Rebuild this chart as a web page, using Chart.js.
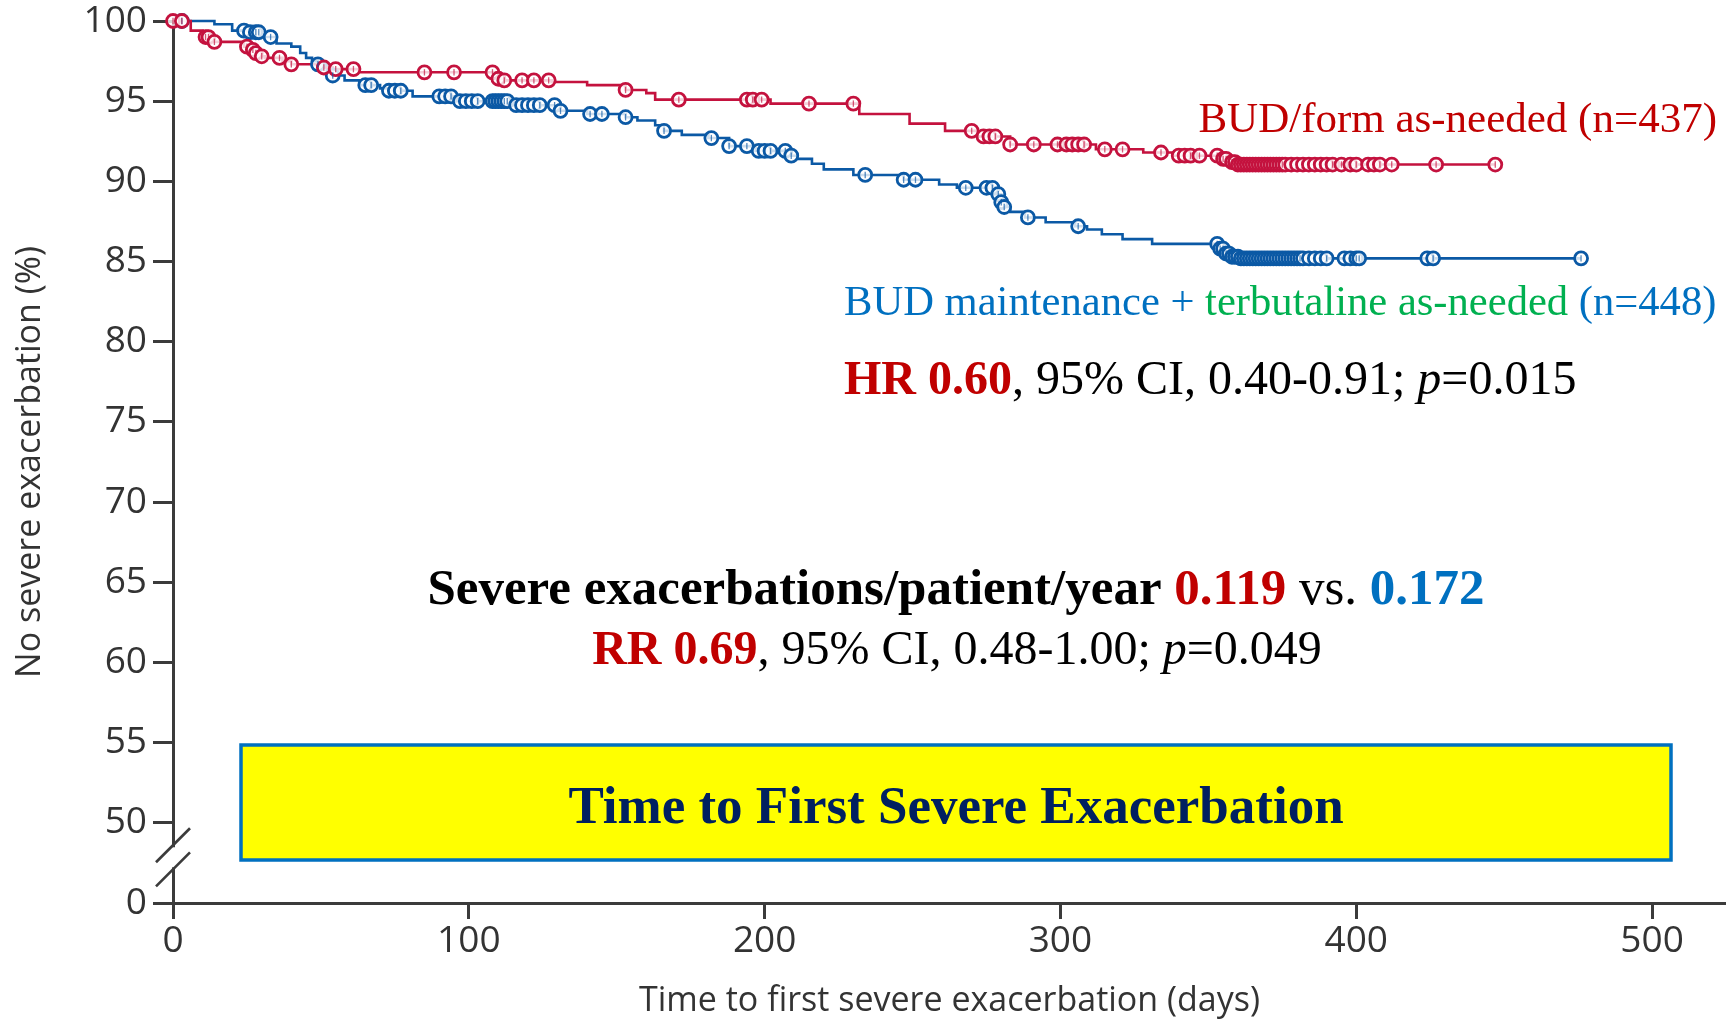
<!DOCTYPE html>
<html>
<head>
<meta charset="utf-8">
<title>Time to First Severe Exacerbation</title>
<script src="https://cdn.jsdelivr.net/npm/chart.js@4.4.1/dist/chart.umd.min.js"></script>
<style>
  html, body { margin: 0; padding: 0; background: #fff; }
  #wrap { width: 1726px; height: 1022px; }
</style>
</head>
<body>
<div id="wrap"><canvas id="kmChart" width="1726" height="1022"></canvas></div>
<script>
// Kaplan-Meier steps: day of the event and % free of severe exacerbation after it
var budFormDays = [0, 6, 10, 13, 24, 26, 28, 30, 31, 37,
  40, 49, 54, 63, 110, 112, 128, 140, 153, 160,
  163, 202, 232, 249, 261, 272, 283, 312, 328, 338,
  354, 357, 360, 447];
var budFormPct = [100, 99.4, 99.0, 98.7, 98.4, 98.2, 98.0, 97.8, 97.7, 97.5,
  97.3, 97.1, 97.0, 96.8, 96.4, 96.3, 96.2, 96.0, 95.7, 95.5,
  95.1, 94.85, 94.2, 93.6, 93.15, 92.8, 92.3, 92.0, 91.8, 91.6,
  91.4, 91.2, 91.05, 91.05];

var budMaintDays = [0, 14, 20, 26, 31, 35, 40, 43, 45, 47,
  49, 52, 54, 58, 63, 70, 73, 81, 95, 114,
  130, 140, 153, 157, 163, 166, 172, 181, 188, 197,
  209, 211, 216, 220, 230, 247, 259, 265, 278, 280,
  281, 283, 288, 295, 305, 309, 314, 321, 331, 354,
  356, 358, 361, 476];
var budMaintPct = [100, 99.8, 99.4, 99.3, 99.0, 98.6, 98.4, 98.0, 97.7, 97.5,
  97.3, 96.9, 96.6, 96.3, 96.0, 95.8, 95.65, 95.3, 95.0, 94.75,
  94.4, 94.2, 94.0, 93.8, 93.5, 93.15, 92.9, 92.7, 92.2, 91.9,
  91.6, 91.4, 91.1, 90.75, 90.4, 90.1, 89.8, 89.6, 89.2, 88.7,
  88.4, 88.1, 87.75, 87.45, 87.2, 87.0, 86.7, 86.4, 86.1, 85.8,
  85.5, 85.3, 85.2, 85.2];

// censored patients (the little circles)
var budFormCensorDays = [0, 3, 11, 12, 14, 25, 27, 28, 30, 36,
  40, 51, 55, 61, 85, 95, 108, 110, 112, 118,
  122, 127, 153, 171, 194, 196, 199, 215, 230, 270,
  274, 276, 278, 283, 291, 299, 302, 304, 306, 308,
  315, 321, 334, 340, 342, 344, 347, 353, 355, 356,
  358, 359, 360, 361, 362, 363, 364, 365, 366, 367,
  368, 369, 370, 371, 372, 373, 374, 375, 376, 378,
  380, 382, 384, 386, 388, 390, 392, 395, 398, 400,
  404, 406, 408, 412, 427, 447];
var budFormCensorPct = [100, 100, 99.0, 99.0, 98.7, 98.4, 98.2, 98.0, 97.8, 97.7,
  97.3, 97.1, 97.0, 97.0, 96.8, 96.8, 96.8, 96.4, 96.3, 96.3,
  96.3, 96.3, 95.7, 95.1, 95.1, 95.1, 95.1, 94.85, 94.85, 93.15,
  92.8, 92.8, 92.8, 92.3, 92.3, 92.3, 92.3, 92.3, 92.3, 92.3,
  92.0, 92.0, 91.8, 91.6, 91.6, 91.6, 91.6, 91.6, 91.4, 91.4,
  91.2, 91.2, 91.05, 91.05, 91.05, 91.05, 91.05, 91.05, 91.05, 91.05,
  91.05, 91.05, 91.05, 91.05, 91.05, 91.05, 91.05, 91.05, 91.05, 91.05,
  91.05, 91.05, 91.05, 91.05, 91.05, 91.05, 91.05, 91.05, 91.05, 91.05,
  91.05, 91.05, 91.05, 91.05, 91.05, 91.05];

var budMaintCensorDays = [3, 24, 26, 28, 29, 33, 49, 54, 65, 67,
  73, 75, 77, 90, 92, 94, 97, 99, 101, 103,
  108, 109, 110, 111, 112, 113, 116, 118, 120, 122,
  124, 129, 131, 141, 145, 153, 166, 182, 188, 194,
  198, 200, 202, 207, 209, 234, 247, 251, 268, 275,
  277, 279, 280, 281, 289, 306, 353, 354, 355, 356,
  357, 358, 359, 360, 361, 362, 363, 364, 365, 366,
  367, 368, 369, 370, 371, 372, 373, 374, 375, 376,
  377, 378, 379, 380, 381, 382, 384, 386, 388, 390,
  396, 398, 400, 401, 424, 426, 476];
var budMaintCensorPct = [100, 99.4, 99.3, 99.3, 99.3, 99.0, 97.3, 96.6, 96.0, 96.0,
  95.65, 95.65, 95.65, 95.3, 95.3, 95.3, 95.0, 95.0, 95.0, 95.0,
  95.0, 95.0, 95.0, 95.0, 95.0, 95.0, 94.75, 94.75, 94.75, 94.75,
  94.75, 94.75, 94.4, 94.2, 94.2, 94.0, 93.15, 92.7, 92.2, 92.2,
  91.9, 91.9, 91.9, 91.9, 91.6, 90.4, 90.1, 90.1, 89.6, 89.6,
  89.6, 89.2, 88.7, 88.4, 87.75, 87.2, 86.1, 85.8, 85.8, 85.5,
  85.5, 85.3, 85.3, 85.3, 85.2, 85.2, 85.2, 85.2, 85.2, 85.2,
  85.2, 85.2, 85.2, 85.2, 85.2, 85.2, 85.2, 85.2, 85.2, 85.2,
  85.2, 85.2, 85.2, 85.2, 85.2, 85.2, 85.2, 85.2, 85.2, 85.2,
  85.2, 85.2, 85.2, 85.2, 85.2, 85.2, 85.2];

var xTicks = [0, 100, 200, 300, 400, 500];
// the y axis is broken: 45 is the spot where "0" is printed
var yTicks = [45, 50, 55, 60, 65, 70, 75, 80, 85, 90, 95, 100];
var yTickLabels = ['0', '50', '55', '60', '65', '70', '75', '80', '85', '90', '95', '100'];

var RED = '#c4123e';
var BLUE = '#0b59a5';
var AXIS = '#3b3b3b';
var TICKTXT = '#333333';
var SANS = '"Open Sans", "DejaVu Sans", sans-serif';
var SERIF = '"Liberation Serif", "Times New Roman", serif';

function toPoints(xs, ys) {
  return xs.map(function(x, i) { return {x: x, y: ys[i]}; });
}

function kmLine(label, days, pct, color) {
  return {
    label: label,
    data: toPoints(days, pct),
    borderColor: color,
    borderWidth: 2.6,
    stepped: 'before',
    pointRadius: 0,
    fill: false,
    clip: false,
    order: 5
  };
}

function censorRings(label, days, pct, color) {
  return {
    label: label,
    data: toPoints(days, pct),
    showLine: false,
    pointStyle: 'circle',
    pointRadius: 6.5,
    pointBorderWidth: 2.8,
    pointBorderColor: color,
    pointBackgroundColor: 'rgba(255,255,255,0.8)',
    clip: false,
    order: 3
  };
}

function censorTicks(label, days, pct, color) {
  return {
    label: label,
    data: toPoints(days, pct),
    showLine: false,
    pointStyle: 'line',
    pointRotation: 90,
    pointRadius: 3.2,
    pointBorderWidth: 1.3,
    pointBorderColor: color,
    clip: false,
    order: 1
  };
}

function drawRuns(ctx, x, y, runs, align) {
  var total = 0;
  runs.forEach(function(r) {
    ctx.font = r.font;
    r.w = ctx.measureText(r.text).width;
    total += r.w;
  });
  var cx = align === 'center' ? x - total / 2 : (align === 'right' ? x - total : x);
  ctx.textAlign = 'left';
  ctx.textBaseline = 'alphabetic';
  runs.forEach(function(r) {
    ctx.font = r.font;
    ctx.fillStyle = r.color;
    ctx.fillText(r.text, cx, y);
    cx += r.w;
  });
}

// the // marks on the y axis between 50 and 0
var axisBreak = {
  id: 'axisBreak',
  afterDraw: function(chart) {
    var ctx = chart.ctx;
    var x0 = chart.chartArea.left;
    var yA = chart.scales.y.getPixelForValue(48.6);
    var yB = chart.scales.y.getPixelForValue(47.1);
    ctx.save();
    ctx.fillStyle = '#ffffff';
    ctx.fillRect(x0 - 3, yA + 2, 6, yB - yA - 4);
    ctx.strokeStyle = AXIS;
    ctx.lineWidth = 2.6;
    [yA, yB].forEach(function(yy) {
      ctx.beginPath();
      ctx.moveTo(x0 - 17, yy + 17);
      ctx.lineTo(x0 + 17, yy - 17);
      ctx.stroke();
    });
    ctx.restore();
  }
};

var notes = {
  id: 'notes',
  afterDraw: function(chart) {
    var ctx = chart.ctx;
    ctx.save();

    drawRuns(ctx, 1717, 132, [
      {text: 'BUD/form as-needed (n=437)', font: '43px ' + SERIF, color: '#c00000'}
    ], 'right');

    drawRuns(ctx, 844, 315, [
      {text: 'BUD maintenance + ', font: '42.6px ' + SERIF, color: '#0070c0'},
      {text: 'terbutaline as-needed', font: '42.6px ' + SERIF, color: '#00b050'},
      {text: ' (n=448)', font: '42.6px ' + SERIF, color: '#0070c0'}
    ], 'left');

    drawRuns(ctx, 844, 394, [
      {text: 'HR 0.60', font: 'bold 48px ' + SERIF, color: '#c00000'},
      {text: ', 95% CI, 0.40-0.91; ', font: '48px ' + SERIF, color: '#000'},
      {text: 'p', font: 'italic 48px ' + SERIF, color: '#000'},
      {text: '=0.015', font: '48px ' + SERIF, color: '#000'}
    ], 'left');

    drawRuns(ctx, 956, 604, [
      {text: 'Severe exacerbations/patient/year ', font: 'bold 51px ' + SERIF, color: '#000'},
      {text: '0.119', font: 'bold 51px ' + SERIF, color: '#c00000'},
      {text: ' vs. ', font: '51px ' + SERIF, color: '#000'},
      {text: '0.172', font: 'bold 51px ' + SERIF, color: '#0070c0'}
    ], 'center');

    drawRuns(ctx, 957, 664, [
      {text: 'RR 0.69', font: 'bold 48px ' + SERIF, color: '#c00000'},
      {text: ', 95% CI, 0.48-1.00; ', font: '48px ' + SERIF, color: '#000'},
      {text: 'p', font: 'italic 48px ' + SERIF, color: '#000'},
      {text: '=0.049', font: '48px ' + SERIF, color: '#000'}
    ], 'center');

    ctx.fillStyle = '#ffff00';
    ctx.fillRect(241, 745, 1430, 115);
    ctx.strokeStyle = '#0070c0';
    ctx.lineWidth = 3.5;
    ctx.strokeRect(241, 745, 1430, 115);
    drawRuns(ctx, 956, 823, [
      {text: 'Time to First Severe Exacerbation', font: 'bold 53px ' + SERIF, color: '#002060'}
    ], 'center');

    ctx.restore();
  }
};

var ctx = document.getElementById('kmChart').getContext('2d');
var kmChart = new Chart(ctx, {
  type: 'line',
  data: {
    datasets: [
      kmLine('BUD/form as-needed', budFormDays, budFormPct, RED),
      kmLine('BUD maintenance + terbutaline as-needed', budMaintDays, budMaintPct, BLUE),
      censorRings('BUD/form censored', budFormCensorDays, budFormCensorPct, RED),
      censorRings('BUD maintenance censored', budMaintCensorDays, budMaintCensorPct, BLUE),
      censorTicks('BUD/form censored tick', budFormCensorDays, budFormCensorPct, 'rgba(196,18,62,0.7)'),
      censorTicks('BUD maintenance censored tick', budMaintCensorDays, budMaintCensorPct, 'rgba(11,89,165,0.7)')
    ]
  },
  options: {
    responsive: false,
    animation: false,
    events: [],
    layout: { autoPadding: false, padding: { top: 21, right: 0, bottom: 0, left: 0 } },
    plugins: {
      legend: { display: false },
      tooltip: { enabled: false }
    },
    scales: {
      x: {
        type: 'linear',
        min: 0,
        max: 525,
        afterBuildTicks: function(axis) {
          axis.ticks = xTicks.map(function(v) { return {value: v}; });
        },
        afterFit: function(scale) {
          scale.height = 119;
          scale.paddingLeft = 0;
          scale.paddingRight = 0;
        },
        grid: { drawOnChartArea: false, drawTicks: true, tickLength: 16, tickWidth: 3, tickColor: AXIS },
        border: { display: true, color: AXIS, width: 3 },
        ticks: {
          color: TICKTXT,
          font: { family: SANS, size: 37 },
          padding: 0,
          maxRotation: 0,
          autoSkip: false
        },
        title: {
          display: true,
          text: 'Time to first severe exacerbation (days)',
          color: TICKTXT,
          font: { family: SANS, size: 34 },
          padding: { top: 0, bottom: 0 }
        }
      },
      y: {
        type: 'linear',
        min: 45,
        max: 100,
        afterBuildTicks: function(axis) {
          axis.ticks = yTicks.map(function(v) { return {value: v}; });
        },
        afterFit: function(scale) {
          scale.width = 173;
          scale.paddingTop = 0;
          scale.paddingBottom = 0;
        },
        grid: { drawOnChartArea: false, drawTicks: true, tickLength: 20, tickWidth: 3, tickColor: AXIS },
        border: { display: true, color: AXIS, width: 3 },
        ticks: {
          color: TICKTXT,
          font: { family: SANS, size: 37 },
          padding: 6,
          autoSkip: false,
          callback: function(value) {
            return yTickLabels[yTicks.indexOf(value)];
          }
        },
        title: {
          display: true,
          text: 'No severe exacerbation (%)',
          color: TICKTXT,
          font: { family: SANS, size: 34 },
          padding: { top: 10, bottom: 0 }
        }
      }
    }
  },
  plugins: [axisBreak, notes]
});
</script>
</body>
</html>
